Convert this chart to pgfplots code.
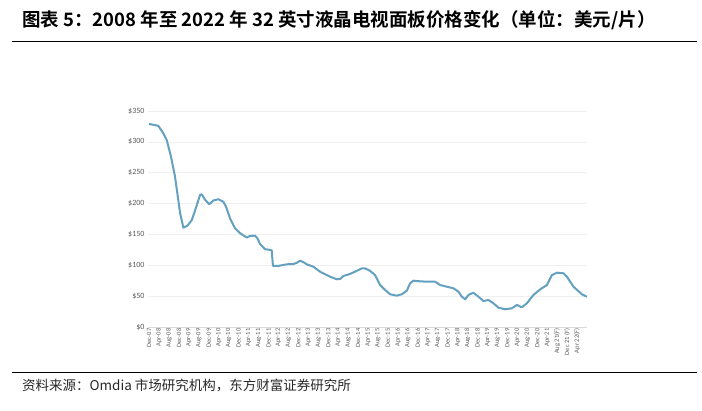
\documentclass[border=0pt]{standalone}
\usepackage{fontspec}
\setmainfont{Carlito}
\newfontfamily\cjk{Noto Sans CJK SC}
\newfontfamily\cjkbold{Noto Sans CJK SC Bold}
\usepackage{pgfplots}
\pgfplotsset{compat=1.18}
\definecolor{lineblue}{RGB}{100,160,192}
\definecolor{ticktext}{RGB}{90,90,90}
\begin{document}
\begin{tikzpicture}[x=1pt,y=1pt]
\path[use as bounding box] (0,0) rectangle (702,411);
\node[anchor=west,inner sep=0pt] at (22,391) {\cjkbold\fontsize{18.5}{21}\selectfont 图表 5：2008 年至 2022 年 32 英寸液晶电视面板价格变化（单位：美元/片）};
\draw[line width=1pt] (12,369) -- (697,369);
\draw[line width=0.8pt] (12,39) -- (697,39);
\node[anchor=west,inner sep=0pt] at (22,26) {\cjk\fontsize{13.5}{15}\selectfont\color[RGB]{40,40,40} 资料来源：Omdia 市场研究机构，东方财富证券研究所};
\begin{axis}[at={(148pt,84pt)}, anchor=south west, scale only axis,
  width=439pt, height=216pt,
  xmin=-0.1, xmax=44, ymin=0, ymax=350,
  ytick={0,50,...,350},
  yticklabels={\$0,\$50,\$100,\$150,\$200,\$250,\$300,\$350},
  xtick={0,...,43},
  xticklabels={Dec-07,Apr-08,Aug-08,Dec-08,Apr-09,Aug-09,Dec-09,Apr-10,Aug-10,Dec-10,Apr-11,Aug-11,Dec-11,Apr-12,Aug-12,Dec-12,Apr-13,Aug-13,Dec-13,Apr-14,Aug-14,Dec-14,Apr-15,Aug-15,Dec-15,Apr-16,Aug-16,Dec-16,Apr-17,Aug-17,Dec-17,Apr-18,Aug-18,Dec-18,Apr-19,Aug-19,Dec-19,Apr-20,Aug-20,Dec-20,Apr-21,Aug 21(F),Dec 21 (F),Apr 22(F)},
  x tick label style={rotate=90, anchor=east, font=\fontsize{6.5}{7}\selectfont, text=ticktext, inner sep=1.5pt},
  y tick label style={font=\fontsize{8}{9}\selectfont, text=ticktext},
  major tick length=0pt,
  ymajorgrids, grid style={draw=gray!12, line width=0.6pt},
  axis x line*=bottom, axis y line*=left,
  x axis line style={draw=gray!30, line width=0.6pt, -},
  y axis line style={draw=none},
  clip=false,
]
\addplot[color=lineblue, line width=2pt, line join=round, mark=none] coordinates {
(0,329) (0.93,326) (1.44,314) (1.78,303) (2.21,276) (2.61,244) (2.94,206) (3.12,185)
(3.45,161) (3.85,164) (4.29,173) (4.55,185) (5.13,214) (5.30,215) (5.63,206) (6.06,199)
(6.46,205) (6.96,207) (7.47,203) (7.74,195) (8.14,176) (8.64,160) (9.15,152) (9.82,145)
(10.15,147.5) (10.65,148) (10.88,144) (11.16,134.5) (11.66,126) (12.16,125) (12.33,124)
(12.45,99) (13.0,99) (13.84,101.6) (14.5,102) (14.84,104) (15.18,107.5) (15.51,105)
(15.85,101.6) (16.51,97.7) (17.19,89.6) (18.19,81.5) (18.86,77.3) (19.2,77.8) (19.53,82.6)
(20.2,86) (20.7,89.6) (21.38,95) (21.71,95) (22.21,91) (22.71,84) (23.22,68) (23.72,60)
(24.22,53) (24.89,50.8) (25.40,53) (25.90,58.8) (26.23,70.8) (26.56,75) (27.24,74)
(27.91,73.4) (28.74,73.4) (29.25,68) (29.92,65.3) (30.58,62.7) (31.09,57.2) (31.43,49)
(31.76,44.9) (32.09,51.9) (32.59,55.6) (33.10,49) (33.60,42) (34.10,43.8) (34.60,38.4)
(35.11,31.3) (35.78,28.7) (36.45,30.3) (36.96,35.7) (37.46,31.9) (37.96,38.4) (38.62,51.9)
(39.30,61) (39.97,68) (40.47,84) (40.98,88) (41.64,87) (41.98,81.5) (42.64,65.3)
(43.49,53) (43.99,49)
};
\end{axis}
\end{tikzpicture}
\end{document}
